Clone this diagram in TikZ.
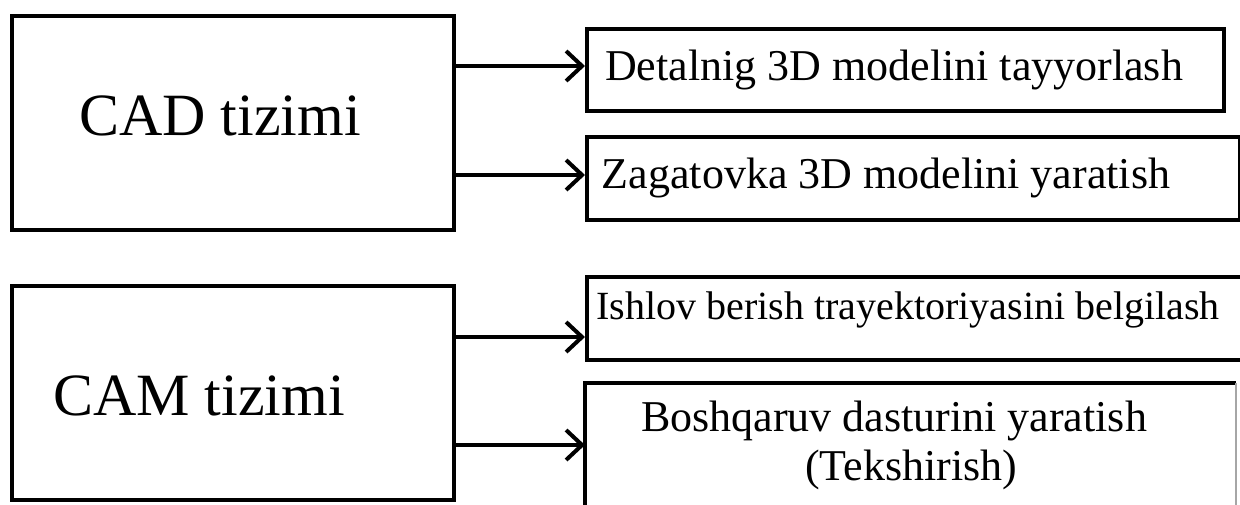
\documentclass[tikz,border=0pt]{standalone}
\usepackage{fontspec}
\setmainfont{Liberation Serif}
\usetikzlibrary{arrows.meta}
\begin{document}
\begin{tikzpicture}[x=1pt,y=-1pt,
  box/.style={draw=black,line width=4pt,rectangle,inner sep=0pt,anchor=north west},
  bigtxt/.style={font=\fontsize{60}{66}\selectfont,inner sep=0pt},
  smalltxt/.style={font=\fontsize{44}{49}\selectfont,inner sep=0pt,align=center},
  arr/.style={line width=4pt,-{Straight Barb[length=16pt,width=30pt,line width=4pt]}}]
\useasboundingbox (0,0) rectangle (1240,504);
% left boxes
\node[box,minimum width=442pt,minimum height=214pt] (cad) at (10,14) {};
\node[box,minimum width=442pt,minimum height=214pt] (cam) at (10,284) {};
\node[bigtxt] (cadt) at (220,116) {CAD tizimi};
\node[bigtxt] (camt) at (199,396) {CAM tizimi};
% right boxes
\node[box,minimum width=637pt,minimum height=82pt] (b1) at (585,27) {};
\node[box,minimum width=653pt,minimum height=83pt] (b2) at (585,135) {};
\node[box,minimum width=655pt,minimum height=83pt] (b3) at (585,275) {};
\node[inner sep=0pt,minimum width=651pt,minimum height=130pt,anchor=north west] (b4) at (585,383) {};
\draw[line width=4pt] (b4.south west) -- (b4.north west) -- (b4.north east);
\draw[line width=2pt,black!35] (b4.north east) -- (b4.south east);
\node[smalltxt] (b1t) at (894,70) {Detalnig 3D modelini tayyorlash};
\node[smalltxt] (b2t) at (886,178) {Zagatovka 3D modelini yaratish};
\node[smalltxt,font=\fontsize{40}{44}\selectfont] (b3t) at (908,310) {Ishlov berish trayektoriyasini belgilash};
\node[smalltxt] (b4t) at (894,445) {Boshqaruv dasturini yaratish\\\hspace*{34pt}(Tekshirish)};
% connectors
\coordinate (c1) at ([yshift=-52pt]cad.east);
\coordinate (c2) at ([yshift=57pt]cad.east);
\coordinate (c3) at ([yshift=-52pt]cam.east);
\coordinate (c4) at ([yshift=56pt]cam.east);
\draw[arr] (c1) -- (c1 -| b1.west);
\draw[arr] (c2) -- (c2 -| b2.west);
\draw[arr] (c3) -- (c3 -| b3.west);
\draw[arr] (c4) -- (c4 -| b4.west);
\end{tikzpicture}
\end{document}
